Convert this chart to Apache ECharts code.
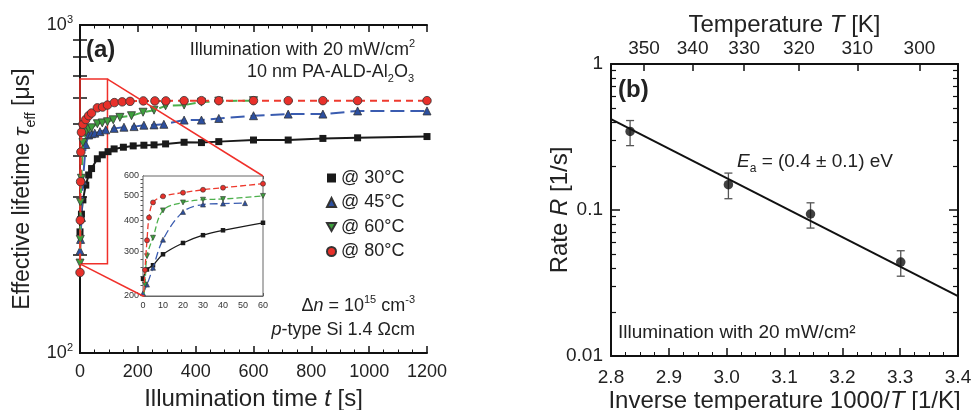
<!DOCTYPE html>
<html><head><meta charset="utf-8">
<script src="https://cdn.jsdelivr.net/npm/echarts@6.0.0/dist/echarts.min.js"></script>
<style>html,body{margin:0;padding:0;background:#fff}#c{width:974px;height:410px}</style>
</head><body><div id="c"></div>
<script>
// ---------- data: panel (a) ----------
const t30 = [0, 2, 5, 10, 20, 30, 40, 60, 77, 97, 118, 150, 184, 221, 256, 296, 360, 420, 480, 600, 720, 840, 960, 1200];
const v30 = [234, 255, 265, 293, 325, 349, 365, 391, 402, 411, 419, 424, 428, 430, 431, 434, 439, 438, 441, 446, 446, 451, 453, 457];
const t45 = [0, 2, 5, 10, 20, 30, 40, 51, 69, 89, 118, 152, 187, 221, 256, 290, 360, 420, 480, 600, 720, 840, 960, 1200];
const v45 = [205, 222, 259, 335, 432, 462, 466, 468, 473, 479, 484, 488, 490, 495, 496, 498, 513, 513, 519, 529, 535, 535, 547, 547];
const t60 = [0, 1, 2, 5, 10, 20, 30, 40, 60, 77, 95, 115, 138, 178, 218, 256, 296, 360, 420, 480, 600];
const v60 = [188, 222, 288, 341, 438, 471, 483, 486, 500, 503, 507, 514, 523, 529, 542, 550, 567, 570, 582, 586, 588];
const t80 = [0, 1, 2, 3, 5, 10, 20, 30, 40, 60, 78, 95, 119, 146, 173, 219, 259, 297, 360, 420, 480, 600, 720, 840, 960, 1200];
const v80 = [176, 254, 333, 410, 471, 498, 515, 529, 539, 559, 562, 570, 580, 583, 585, 587, 587, 587, 588, 588, 588, 588, 588, 588, 588, 588];
const seriesNames = ['@ 30°C', '@ 45°C', '@ 60°C', '@ 80°C'];
const lifeLabelTicks = [100, 1000];
const lifeMinorTicks = [200, 300, 400, 500, 600, 700, 800, 900];
const insetLabelTicks = [200, 300, 400, 500, 600];
const insetMinorTicks = [220,240,260,280,300,320,340,360,380,400,420,440,460,480,500,520,540,560,580];
const zoomBoxT = [0, 95];
const zoomBoxV = [187, 684];
// ---------- data: panel (b) ----------
const invT = [2.833, 3.003, 3.145, 3.301];
const rate = [0.345, 0.149, 0.0939, 0.0440];
const rateLow = [0.276, 0.1195, 0.0752, 0.0352];
const rateHigh = [0.410, 0.179, 0.112, 0.0526];
const fitX = [2.8, 3.4];
const fitR = [0.419, 0.0257];
const tempTicks = [350, 340, 330, 320, 310, 300];
const rateLabelTicks = [0.01, 0.1, 1];
const rateMinorTicks = [0.02,0.03,0.04,0.05,0.06,0.07,0.08,0.09,0.2,0.3,0.4,0.5,0.6,0.7,0.8,0.9];

const FONT = '"Liberation Sans", Arial, sans-serif';
const TXT = '#222';
const C30 = '#1a1a1a', C45 = '#2c4f9f', C60 = '#3d9e3d', C80 = '#e8302a';
const L45 = '#3a5cb0', L60 = '#4cb04c', L80 = '#ee3a2e';
const DOWN = 'path://M0,0L10,0L5,9Z';

function pairs(t, v) { return t.map((x, i) => [x, v[i]]); }
function upto(t, v, lim) { return pairs(t, v).filter(p => p[0] <= lim); }

const supRich = (fs) => ({
  m: { fontSize: fs, fontFamily: FONT, color: TXT, lineHeight: Math.round(fs * 1.35) },
  i: { fontSize: fs, fontFamily: FONT, color: TXT, fontStyle: 'italic', lineHeight: Math.round(fs * 1.35) },
  b: { fontSize: fs, fontFamily: FONT, color: TXT, fontWeight: 'bold', lineHeight: Math.round(fs * 1.35) },
  sup: { fontSize: Math.round(fs * 0.62), fontFamily: FONT, color: TXT, verticalAlign: 'top', lineHeight: Math.round(fs * 0.62) },
  sub: { fontSize: Math.round(fs * 0.62), fontFamily: FONT, color: TXT, verticalAlign: 'bottom', lineHeight: Math.round(fs * 0.62) }
});

const axLine = { show: true, lineStyle: { color: '#111', width: 2 } };

function mainLine(idx, t, v, color, lcolor, symbol, size, dash, border) {
  return {
    type: 'line', name: seriesNames[idx], xAxisIndex: 0, yAxisIndex: 0,
    data: pairs(t, v), symbol, symbolSize: size,
    itemStyle: { color, borderColor: border ? '#333' : color, borderWidth: border ? 0.8 : 0 },
    lineStyle: { color: lcolor, width: 2, type: dash }, z: 3 + idx
  };
}
function insetLine(idx, t, v, color, lcolor, symbol, size, dash, border) {
  return {
    type: 'line', name: seriesNames[idx], xAxisIndex: 2, yAxisIndex: 2,
    data: upto(t, v, 60), symbol, symbolSize: size, smooth: 0.35,
    itemStyle: { color, borderColor: border ? '#333' : color, borderWidth: border ? 0.6 : 0 },
    lineStyle: { color: lcolor, width: 1.3, type: dash }, z: 3 + idx
  };
}

const option = {
  animation: false,
  backgroundColor: '#fff',
  textStyle: { fontFamily: FONT },
  grid: [
    { left: 80, top: 25, width: 347, height: 328, outerBoundsMode: 'none', containLabel: false },
    { left: 143, top: 176, width: 120, height: 120, show: true, backgroundColor: '#fff', borderColor: '#666', borderWidth: 1, z: 1, outerBoundsMode: 'none', containLabel: false },
    { left: 611, top: 64, width: 347, height: 292, outerBoundsMode: 'none', containLabel: false },
    { left: 611, top: 64, width: 347, height: 292, outerBoundsMode: 'none', containLabel: false }
  ],
  xAxis: [
    { gridIndex: 0, type: 'value', min: 0, max: 1200, interval: 200, position: 'bottom',
      axisLine: axLine, axisTick: { inside: true, length: 7, lineStyle: { color: '#111', width: 1.5 } },
      minorTick: { show: true, splitNumber: 4, length: 3.5, lineStyle: { color: '#111', width: 1 } },
      splitLine: { show: false },
      axisLabel: { fontSize: 18, color: TXT, margin: 10, fontFamily: FONT, formatter: v => String(v) },
      name: '{m|Illumination time }{i|t}{m| [s]}', nameLocation: 'middle', nameGap: 30, nameMoveOverlap: false,
      nameTextStyle: { rich: supRich(24) } },
    { gridIndex: 0, type: 'value', min: 0, max: 1200, interval: 200, position: 'top',
      axisLine: axLine, axisTick: { inside: true, length: 7, lineStyle: { color: '#111', width: 1.5 } },
      minorTick: { show: true, splitNumber: 4, length: 3.5, lineStyle: { color: '#111', width: 1 } },
      splitLine: { show: false }, axisLabel: { show: false } },
    { gridIndex: 1, type: 'value', min: 0, max: 60, interval: 10, position: 'bottom',
      axisLine: { show: true, lineStyle: { color: '#666', width: 1 } },
      axisTick: { inside: true, length: 3, lineStyle: { color: '#555', width: 1 } },
      minorTick: { show: true, splitNumber: 5, length: 2, lineStyle: { color: '#666', width: 1 } },
      splitLine: { show: false },
      axisLabel: { fontSize: 9, color: '#333', margin: 5, fontFamily: FONT } },
    { gridIndex: 1, type: 'value', min: 0, max: 60, interval: 10, position: 'top',
      axisLine: { show: true, lineStyle: { color: '#666', width: 1 } },
      axisTick: { inside: true, length: 3, lineStyle: { color: '#555', width: 1 } },
      minorTick: { show: true, splitNumber: 5, length: 2, lineStyle: { color: '#666', width: 1 } },
      splitLine: { show: false }, axisLabel: { show: false } },
    { gridIndex: 2, type: 'value', min: 2.8, max: 3.4, interval: 0.1, position: 'bottom',
      axisLine: axLine, axisTick: { inside: true, length: 8, lineStyle: { color: '#111', width: 1.5 } },
      minorTick: { show: true, splitNumber: 4, length: 4, lineStyle: { color: '#111', width: 1 } },
      splitLine: { show: false },
      axisLabel: { fontSize: 19, color: TXT, margin: 12, fontFamily: FONT, formatter: v => v.toFixed(1) },
      name: '{m|Inverse temperature 1000/}{i|T}{m| [1/K]}', nameLocation: 'middle', nameGap: 29, nameMoveOverlap: false,
      nameTextStyle: { rich: supRich(24) } },
    { gridIndex: 2, type: 'value', min: 2.8, max: 3.4, position: 'top',
      axisLine: axLine,
      axisTick: { inside: true, length: 7, lineStyle: { color: '#111', width: 1.5 }, customValues: tempTicks.map(T => 1000 / T) },
      splitLine: { show: false },
      axisLabel: { fontSize: 19, color: TXT, margin: 6, fontFamily: FONT,
        customValues: tempTicks.map(T => 1000 / T), formatter: v => String(Math.round(1000 / v)) },
      name: '{m|Temperature }{i|T}{m| [K]}', nameLocation: 'middle', nameGap: 23, nameMoveOverlap: false,
      nameTextStyle: { rich: supRich(24) } },
    { gridIndex: 3, type: 'value', min: 2.8, max: 3.4, show: false }
  ],
  yAxis: [
    { gridIndex: 0, type: 'log', min: 100, max: 1000, position: 'left',
      axisLine: axLine,
      axisTick: { inside: true, length: 7, lineStyle: { color: '#111', width: 1.5 }, customValues: lifeMinorTicks },
      splitLine: { show: false }, minorTick: { show: false },
      axisLabel: { customValues: lifeLabelTicks, margin: 7,
        formatter: v => '{b|10}{s|' + Math.round(Math.log10(v)) + '}',
        rich: { b: { fontSize: 18, color: TXT, fontFamily: FONT, lineHeight: 22 },
                s: { fontSize: 11, color: TXT, fontFamily: FONT, verticalAlign: 'top', lineHeight: 11 } } },
      name: '{m|Effective lifetime }{i|τ}{sub|eff}{m| [μs]}', nameLocation: 'middle', nameGap: 42, nameMoveOverlap: false,
      nameTextStyle: { rich: supRich(23) } },
    { gridIndex: 0, type: 'log', min: 100, max: 1000, position: 'right',
      axisLine: axLine,
      axisTick: { inside: true, length: 7, lineStyle: { color: '#111', width: 1.5 }, customValues: lifeMinorTicks },
      splitLine: { show: false }, axisLabel: { show: false } },
    { gridIndex: 1, type: 'log', min: 200, max: 600, position: 'left',
      axisLine: { show: true, lineStyle: { color: '#666', width: 1 } },
      axisTick: { inside: true, length: 2.5, lineStyle: { color: '#555', width: 1 }, customValues: insetMinorTicks },
      splitLine: { show: false },
      axisLabel: { customValues: insetLabelTicks, fontSize: 9, color: '#333', margin: 4, fontFamily: FONT } },
    { gridIndex: 1, type: 'log', min: 200, max: 600, position: 'right',
      axisLine: { show: true, lineStyle: { color: '#666', width: 1 } },
      axisTick: { inside: true, length: 2.5, lineStyle: { color: '#555', width: 1 }, customValues: insetMinorTicks },
      splitLine: { show: false }, axisLabel: { show: false } },
    { gridIndex: 2, type: 'log', min: 0.01, max: 1, position: 'left',
      axisLine: axLine,
      axisTick: { inside: true, length: 9, lineStyle: { color: '#111', width: 1.5 }, customValues: rateLabelTicks },
      splitLine: { show: false },
      axisLabel: { customValues: rateLabelTicks, fontSize: 19, color: TXT, margin: 8, fontFamily: FONT,
        formatter: v => String(v) },
      name: '{m|Rate }{i|R}{m| [1/s]}', nameLocation: 'middle', nameGap: 35, nameMoveOverlap: false,
      nameTextStyle: { rich: supRich(24) } },
    { gridIndex: 2, type: 'log', min: 0.01, max: 1, position: 'right',
      axisLine: axLine,
      axisTick: { inside: true, length: 9, lineStyle: { color: '#111', width: 1.5 }, customValues: rateLabelTicks },
      splitLine: { show: false }, axisLabel: { show: false } },
    { gridIndex: 3, type: 'log', min: 0.01, max: 1, position: 'left',
      axisLine: { show: false },
      axisTick: { inside: true, length: 5, lineStyle: { color: '#111', width: 1.2 }, customValues: rateMinorTicks },
      splitLine: { show: false }, axisLabel: { show: false } },
    { gridIndex: 3, type: 'log', min: 0.01, max: 1, position: 'right',
      axisLine: { show: false },
      axisTick: { inside: true, length: 5, lineStyle: { color: '#111', width: 1.2 }, customValues: rateMinorTicks },
      splitLine: { show: false }, axisLabel: { show: false } }
  ],
  legend: {
    orient: 'vertical', left: 326, top: 169, padding: 0, itemWidth: 9, itemHeight: 9, itemGap: 6.5,
    selectedMode: false, textStyle: { fontFamily: FONT, fontSize: 18, color: TXT },
    data: [
      { name: seriesNames[0], icon: 'rect' },
      { name: seriesNames[1], icon: 'triangle' },
      { name: seriesNames[2], icon: DOWN },
      { name: seriesNames[3], icon: 'circle' }
    ]
  },
  series: [
    mainLine(0, t30, v30, C30, C30, 'rect', 7, 'solid', false),
    mainLine(1, t45, v45, C45, L45, 'triangle', 8, [14, 6], true),
    mainLine(2, t60, v60, C60, L60, DOWN, 8, [9, 5], true),
    Object.assign(mainLine(3, t80, v80, C80, L80, 'circle', 8.5, [7, 5], true), {
      markArea: { silent: true, itemStyle: { color: 'rgba(0,0,0,0)', borderColor: '#f0302a', borderWidth: 1.5 },
        data: [[{ coord: [zoomBoxT[0], zoomBoxV[0]] }, { coord: [zoomBoxT[1], zoomBoxV[1]] }]] }
    }),
    insetLine(0, t30, v30, C30, C30, 'rect', 4.5, 'solid', false),
    insetLine(1, t45, v45, C45, L45, 'triangle', 5, [8, 4], true),
    insetLine(2, t60, v60, C60, L60, DOWN, 5, [6, 3], true),
    insetLine(3, t80, v80, C80, L80, 'circle', 5, [6, 3], true),
    { type: 'line', name: 'fit', xAxisIndex: 4, yAxisIndex: 4, data: pairs(fitX, fitR),
      symbol: 'none', lineStyle: { color: '#111', width: 2 }, z: 3 },
    { type: 'custom', name: 'err', xAxisIndex: 4, yAxisIndex: 4,
      data: invT.map((x, i) => [x, rateLow[i], rateHigh[i]]),
      encode: { x: 0, y: [1, 2] }, z: 2,
      renderItem: function (params, api) {
        const x = api.value(0);
        const lo = api.coord([x, api.value(1)]);
        const hi = api.coord([x, api.value(2)]);
        const w = 4;
        const st = { stroke: '#555', lineWidth: 1.3 };
        return { type: 'group', children: [
          { type: 'line', shape: { x1: lo[0], y1: lo[1], x2: hi[0], y2: hi[1] }, style: st },
          { type: 'line', shape: { x1: hi[0] - w, y1: hi[1], x2: hi[0] + w, y2: hi[1] }, style: st },
          { type: 'line', shape: { x1: lo[0] - w, y1: lo[1], x2: lo[0] + w, y2: lo[1] }, style: st }
        ] };
      } },
    { type: 'scatter', name: 'rate', xAxisIndex: 4, yAxisIndex: 4, data: pairs(invT, rate),
      symbol: 'circle', symbolSize: 9.5, itemStyle: { color: '#111' }, z: 4 }
  ]
};

const chart = echarts.init(document.getElementById('c'));
chart.setOption(option);

function txt(x, y, text, fs, align) {
  return { type: 'text', x: x, y: y, z: 50,
    style: { text: text, align: align || 'left', verticalAlign: 'middle', fontFamily: FONT, fontSize: fs, fill: TXT, rich: supRich(fs) } };
}
const mainCS = { xAxisIndex: 0, yAxisIndex: 0 };
const insetCS = { xAxisIndex: 2, yAxisIndex: 2 };
const a1 = chart.convertToPixel(mainCS, [zoomBoxT[1], zoomBoxV[1]]);
const a2 = chart.convertToPixel(insetCS, [60, 600]);
const b1 = chart.convertToPixel(mainCS, [zoomBoxT[0], zoomBoxV[0]]);
const b2 = chart.convertToPixel(insetCS, [0, 200]);
const red = { stroke: '#f0302a', lineWidth: 1.5 };

chart.setOption({ graphic: [
  { type: 'line', z: 40, shape: { x1: a1[0], y1: a1[1], x2: a2[0], y2: a2[1] }, style: red },
  { type: 'line', z: 40, shape: { x1: b1[0], y1: b1[1], x2: b2[0], y2: b2[1] }, style: red },
  txt(86, 50, '{b|(a)}', 24),
  txt(415, 50, '{m|Illumination with 20 mW/cm}{sup|2}', 18, 'right'),
  txt(414, 72, '{m|10 nm PA-ALD-Al}{sub|2}{m|O}{sub|3}', 18, 'right'),
  txt(415, 306, '{m|Δ}{i|n}{m| = 10}{sup|15}{m| cm}{sup|-3}', 18, 'right'),
  txt(415, 330, '{i|p}{m|-type Si 1.4 Ωcm}', 18, 'right'),
  txt(618, 90, '{b|(b)}', 24),
  txt(737, 162, '{i|E}{sub|a}{m| = (0.4 ± 0.1) eV}', 19),
  txt(618, 333, '{m|Illumination with 20 mW/cm²}', 19)
] });
</script>
</body></html>
